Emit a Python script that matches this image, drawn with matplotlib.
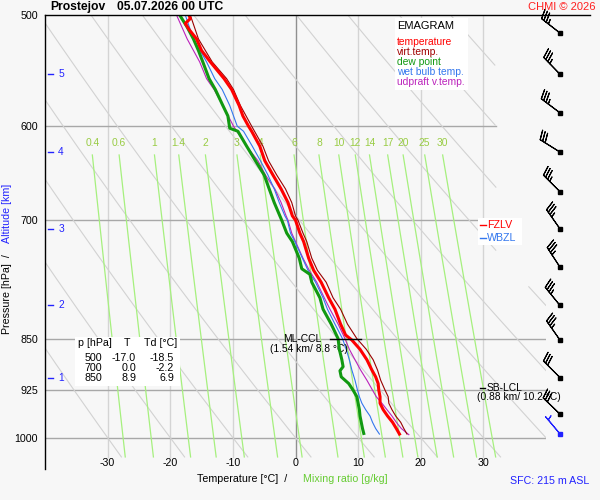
import numpy as np
import matplotlib
matplotlib.use("Agg")
import matplotlib.pyplot as plt
from matplotlib.lines import Line2D
from matplotlib.patches import Rectangle
from matplotlib.ticker import NullLocator

plt.rcParams["font.family"] = ["Liberation Sans", "DejaVu Sans"]

# ---------------------------------------------------------------- data
p_temp = [500, 503, 507, 512, 520, 530, 540, 555, 565, 580, 590, 600, 605, 620,
          635, 650, 665, 680, 695, 700, 715, 725, 745, 760, 775, 795, 810, 830,
          845, 852, 865, 880, 895, 905, 915, 925, 935, 945, 955, 965, 975, 985, 994]
t_temp = [-17.0, -16.8, -17.6, -17.0, -15.8, -15.0, -13.6, -11.4, -10.2, -9.0,
          -8.4, -7.5, -7.0, -5.7, -4.9, -3.6, -2.3, -1.2, -0.5, 0.0, 0.7, 1.3,
          2.1, 2.9, 4.1, 5.3, 6.3, 7.2, 8.0, 9.0, 10.3, 11.4, 12.2, 12.8, 13.2,
          13.3, 13.5, 13.5, 14.0, 14.7, 15.5, 16.1, 16.6]

p_dew = [500, 510, 520, 530, 540, 555, 565, 580, 590, 598, 602, 605, 620, 635,
         650, 665, 680, 695, 700, 715, 725, 745, 758, 765, 775, 795, 810, 830,
         850, 865, 880, 890, 896, 905, 915, 925, 935, 945, 955, 965, 975, 985, 993]
t_dew = [-18.5, -17.3, -16.3, -15.5, -14.8, -13.8, -12.8, -11.6, -10.8, -10.6,
         -10.5, -9.2, -7.8, -6.4, -5.0, -4.2, -3.4, -2.5, -2.2, -1.4, -0.5, 0.6,
         1.0, 2.3, 2.6, 3.9, 4.4, 5.7, 6.8, 7.0, 7.4, 7.6, 7.1, 7.3, 8.5, 9.2,
         9.8, 10.0, 10.2, 10.3, 10.5, 10.7, 10.9]

p_wb = [500, 520, 540, 555, 565, 580, 600, 605, 620, 635, 650, 665, 680, 695,
        700, 715, 725, 745, 760, 775, 795, 810, 830, 850, 865, 880, 895, 910,
        925, 935, 945, 955, 965, 975, 985, 994]
t_wb = [-17.6, -16.3, -14.2, -12.9, -11.7, -10.5, -9.3, -8.3, -6.9, -5.6, -4.4,
        -3.4, -2.6, -1.7, -1.3, -0.8, -0.1, 1.1, 2.0, 3.2, 4.4, 5.1, 6.3, 7.5,
        8.1, 8.6, 9.0, 9.5, 9.9, 10.2, 10.6, 11.2, 11.9, 12.3, 12.8, 13.4]

p_tv = [500, 520, 540, 555, 565, 580, 600, 620, 635, 650, 665, 680, 695, 700,
        715, 725, 745, 760, 775, 795, 810, 830, 850, 865, 880, 895, 910, 925,
        935, 945, 955, 965, 975, 985, 994]
t_tv = [-16.8, -15.5, -13.3, -11.0, -9.9, -8.8, -7.0, -5.2, -4.3, -3.0, -1.6,
        -0.6, 0.0, 0.4, 1.2, 1.8, 2.6, 3.5, 4.9, 6.0, 7.2, 8.3, 9.8, 11.3, 12.4,
        13.1, 13.6, 14.3, 14.8, 14.9, 15.4, 16.0, 16.8, 17.3, 17.8]

p_up = [500, 520, 540, 555, 565, 580, 600, 620, 635, 650, 665, 680, 695, 700,
        715, 725, 745, 760, 775, 795, 810, 830, 850, 865, 880, 895, 910, 925,
        935, 945, 955, 965, 975, 985, 995]
t_up = [-19.0, -17.3, -15.3, -14.2, -13.0, -11.6, -9.9, -7.8, -6.0, -4.8, -3.3,
        -2.3, -1.5, -1.2, -0.6, 0.0, 1.2, 2.2, 3.4, 4.6, 5.5, 6.8, 7.9, 8.6, 9.5,
        10.4, 11.4, 12.3, 12.9, 13.8, 14.6, 15.4, 16.1, 16.9, 18.1]

# wind every 0.5 km, last one is the surface
p_wind = [515, 551, 587, 626, 668, 710, 756, 805, 852, 906, 962, 994]
wind_dir = [308, 316, 307, 302, 315, 325, 327, 321, 325, 315, 314, 320]
wind_kt = [35, 35, 35, 30, 35, 35, 35, 35, 35, 30, 30, 5]

alt_km = [1, 2, 3, 4, 5]
alt_p = [906, 805, 710, 626, 551]

p_ticks = [500, 600, 700, 850, 925, 1000]
t_ticks = [-30, -20, -10, 0, 10, 20, 30]
mix_ratios = [0.4, 0.6, 1, 1.4, 2, 3, 4, 6, 8, 10, 12, 14, 17, 20, 25, 30]
mix_labels = ["0.4", "0.6", "1", "1.4", "2", "3", "4", "6", "8", "10", "12",
              "14", "17", "20", "25", "30"]
theta_c = list(range(-30, 120, 10))

table_p = [500, 700, 850]
table_t = [-17.0, 0.0, 8.9]
table_td = [-18.5, -2.2, 6.9]

legend_labels = ["temperature", "virt.temp.", "dew point", "wet bulb temp.",
                 "udpraft v.temp."]
legend_colors = ["#ff0000", "#a00000", "#119911", "#3377ee", "#bb22bb"]

# ---------------------------------------------------------------- figure
BG = "#f7f7f7"
fig = plt.figure(figsize=(6, 5), dpi=100, facecolor=BG)


def fx(x):
    return x / 600


def fy(y):
    return 1 - y / 500


def ftext(x, y, s, **kw):
    kw.setdefault("fontsize", 7.7)
    kw.setdefault("va", "center")
    fig.text(fx(x), fy(y), s, **kw)


def fbox(x0, y0, x1, y1):
    fig.add_artist(Rectangle((fx(x0), fy(y1)), (x1 - x0) / 600, (y1 - y0) / 500,
                             transform=fig.transFigure, facecolor="white",
                             edgecolor="none"))


PBOT, PTOP = 1052.6, 500
ax = fig.add_axes([fx(45), fy(469), (546 - 45) / 600, (469 - 15) / 500])
ax.set_facecolor("none")
ax.set_yscale("log")
ax.set_ylim(PBOT, PTOP)
ax.set_xlim(-40, 40)
for s in ("top", "right", "bottom"):
    ax.spines[s].set_visible(False)
ax.spines["left"].set_linewidth(1.0)
ax.set_xticks([])
ax.set_yticks(p_ticks)
ax.set_yticklabels([str(p) for p in p_ticks])
ax.yaxis.set_minor_locator(NullLocator())
ax.tick_params(axis="y", length=0, pad=5, labelsize=7.7)

# vertical isotherms
for t in t_ticks:
    ax.plot([t, t], [500, 1032], color="#909090" if t == 0 else "#d4d4d4",
            lw=1.0, zorder=1)
# isobars
for p in p_ticks[1:]:
    tmax = 32 if p < 800 else 40
    ax.plot([-40, tmax], [p, p], color="#a8a8a8", lw=1.0, zorder=1)

# dry adiabats
pp = np.linspace(500, 1032, 200)
tlim = np.where(pp < 780, 32, 40)
for th in theta_c:
    tt = (th + 273.15) * (pp / 1000) ** 0.2857 - 273.15
    tt = np.where(tt <= tlim, tt, np.nan)
    ax.plot(tt, pp, color="#d2d2d2", lw=0.8, zorder=1)

# mixing ratio lines
pm = np.linspace(629, 1032, 60)
for w, lab in zip(mix_ratios, mix_labels):
    lne = np.log(w * pm / (622 + w) / 6.112)
    td = 243.5 * lne / (17.67 - lne)
    ax.plot(td, pm, color="#a6f07e", lw=0.9, zorder=1)
    ax.text(td[0], 617, lab, color="#99cc44", fontsize=7.4, ha="center",
            va="center")

# sounding curves
ax.plot(t_up, p_up, color="#bb22bb", lw=0.8, zorder=3)
ax.plot(t_wb, p_wb, color="#3377ee", lw=0.8, zorder=3)
ax.plot(t_tv, p_tv, color="#990000", lw=0.8, zorder=3)
ax.plot(t_dew, p_dew, color="#119911", lw=2.2, zorder=4)
ax.plot(t_temp, p_temp, color="#ff0000", lw=2.2, zorder=5)

# temperature labels (inside the frame, like the original)
for t in t_ticks:
    ax.text(t, 1043, str(t), fontsize=7.7, ha="center", va="center")

# altitude scale
for km, p in zip(alt_km, alt_p):
    ax.plot([-39.5, -38.7], [p, p], color="#2222ff", lw=1.0, clip_on=False)
    ax.text(-37.9, p, str(km), color="#2222ff", fontsize=7.4, va="center")

# ML-CCL / SB-LCL
ax.plot([5.5, 10.45], [850, 850], color="black", lw=1.0, zorder=6)
ax.text(4.2, 851, "ML-CCL", fontsize=7.4, ha="right", va="center")
ax.text(2.1, 865, "(1.54 km/ 8.8 °C)", fontsize=7.4, ha="center", va="center")
ax.plot([29.4, 30.2], [921.5, 921.5], color="black", lw=1.0, clip_on=False)
ax.text(30.5, 921.5, "SB-LCL", fontsize=7.4, va="center")
ax.text(35.6, 935.6, "(0.88 km/ 10.2 °C)", fontsize=7.4, ha="center",
        va="center")

# wind barbs column
axb = fig.add_axes([fx(546), fy(469), 54 / 600, (469 - 15) / 500])
axb.set_yscale("log")
axb.set_ylim(PBOT, PTOP)
axb.set_xlim(0, 1)
axb.axis("off")
rad = np.deg2rad(wind_dir)
u = -np.array(wind_kt) * np.sin(rad)
v = -np.array(wind_kt) * np.cos(rad)
xb = np.full(len(p_wind), 0.259)
BLEN = 5.8
axb.barbs(xb[:-1], p_wind[:-1], u[:-1], v[:-1], length=BLEN, linewidth=0.8,
          barbcolor="black", clip_on=False)
axb.barbs(xb[-1:], p_wind[-1:], u[-1:], v[-1:], length=BLEN, linewidth=0.8,
          barbcolor="#2222ff", clip_on=False)
axb.plot(xb[:-1], p_wind[:-1], "s", ms=2.3, color="black", clip_on=False)
axb.plot(xb[-1:], p_wind[-1:], "s", ms=2.3, color="#2222ff", clip_on=False)

# top frame line runs over the barb column
fig.add_artist(Line2D([fx(45), fx(590)], [fy(15), fy(15)], color="black",
                      lw=1.0, transform=fig.transFigure))

# legend box
fbox(395, 18, 468, 90)
ftext(397, 26, "EMAGRAM", fontsize=8)
for i, (lab, col) in enumerate(zip(legend_labels, legend_colors)):
    ftext(397, 42 + 10 * i, lab, color=col, fontsize=7.4)

# freezing levels
fbox(478, 218, 522, 232)
fbox(478, 232, 522, 245)
fig.add_artist(Line2D([fx(480), fx(486)], [fy(224.5), fy(224.5)],
                      color="#ff0000", lw=1.0, transform=fig.transFigure))
ftext(487, 225, "FZLV", color="#ff0000")
fig.add_artist(Line2D([fx(480), fx(486)], [fy(237.5), fy(237.5)],
                      color="#3377ee", lw=1.0, transform=fig.transFigure))
ftext(487, 238, "WBZL", color="#3377ee")

# table of standard levels
fbox(75, 337, 180, 386)
ftext(78, 343.5, "p [hPa]")
ftext(127, 343.5, "T", ha="center")
ftext(144, 343.5, "Td [°C]")
for i, (p, t, td) in enumerate(zip(table_p, table_t, table_td)):
    y = 358.3 + 10 * i
    ftext(102.5, y, str(p), ha="right")
    ftext(136, y, f"{t:.1f}", ha="right")
    ftext(174, y, f"{td:.1f}", ha="right")

# titles and axis labels
ftext(50, 7, "Prostejov", fontsize=8.7, weight="bold")
ftext(117, 7, "05.07.2026 00 UTC", fontsize=8.7, weight="bold")
ftext(596, 7, "CHMI © 2026", color="#ff2020", ha="right", fontsize=8)
ftext(7.5, 334, "Pressure [hPa]  /", rotation=90, ha="center", va="bottom")
ftext(7.5, 243, "Altitude [km]", rotation=90, ha="center", va="bottom",
      color="#2222ff")
ftext(197, 479, "Temperature [°C]  /")
ftext(303, 479, "Mixing ratio [g/kg]", color="#66cc33")
ftext(589, 481, "SFC: 215 m ASL", color="#2222ff", ha="right")

fig.savefig("out.png", dpi=100, facecolor=BG)
